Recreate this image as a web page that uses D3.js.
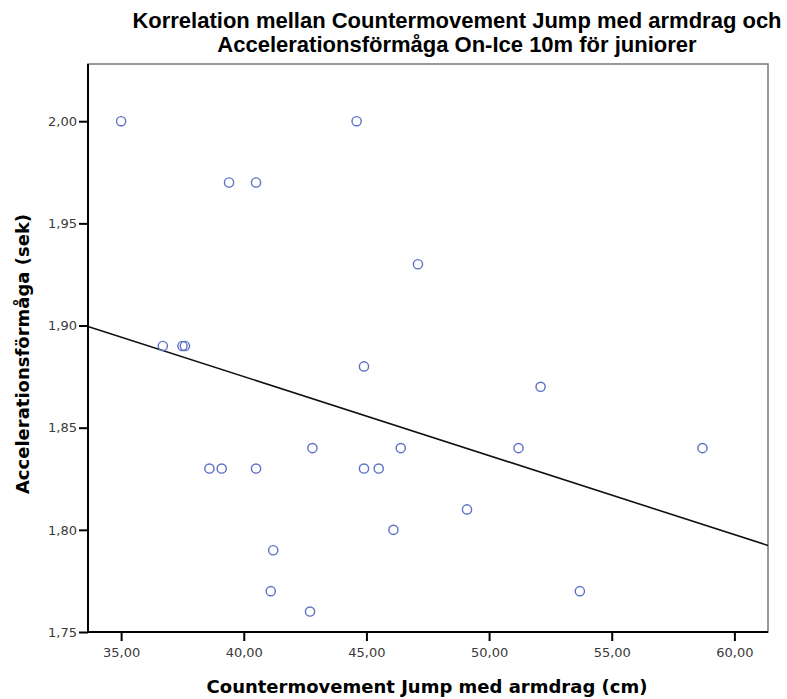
<!DOCTYPE html>
<html lang="sv">
<head>
  <meta charset="UTF-8">
  <title>Korrelation CMJ med armdrag och acceleration</title>
  <style>
    body { margin: 0; background: #fff; }
  </style>
</head>
<body>
  <svg id="chart" width="787" height="699"></svg>

  <script src="https://d3js.org/d3.v7.min.js"></script>
  <script>
    // Countermovement Jump med armdrag (cm)
    const jump = [35.0, 39.4, 40.5, 44.6, 47.1, 36.7, 37.5, 37.6, 44.9, 52.1,
                  38.6, 39.1, 40.5, 42.8, 44.9, 45.5, 46.4, 51.2, 58.7, 46.1,
                  49.1, 41.2, 41.1, 42.7, 53.7];
    // Accelerationsförmåga On-Ice 10m (sek)
    const accel = [2.00, 1.97, 1.97, 2.00, 1.93, 1.89, 1.89, 1.89, 1.88, 1.87,
                   1.83, 1.83, 1.83, 1.84, 1.83, 1.83, 1.84, 1.84, 1.84, 1.80,
                   1.81, 1.79, 1.77, 1.76, 1.77];
    const xTicks = [35, 40, 45, 50, 55, 60];
    const yTicks = [1.75, 1.80, 1.85, 1.90, 1.95, 2.00];

    const svg = d3.select("#chart");
    const plot = { left: 88, right: 768, top: 64, bottom: 632 };
    const labelFont = "'DejaVu Sans', Verdana, sans-serif";
    const titleFont = "'Liberation Sans', Arial, sans-serif";

    const x = d3.scaleLinear().domain([33.65, 61.37]).range([plot.left, plot.right]);
    const y = d3.scaleLinear().domain([1.75, 2.028]).range([plot.bottom, plot.top]);
    const fmt = v => d3.format(".2f")(v).replace(".", ",");

    // frame
    svg.append("rect")
      .attr("x", plot.left).attr("y", plot.top)
      .attr("width", plot.right - plot.left).attr("height", plot.bottom - plot.top)
      .attr("fill", "#fff").attr("stroke", "#777").attr("stroke-width", 1.5);

    // linear fit
    const mx = d3.mean(jump), my = d3.mean(accel);
    const sxy = d3.sum(jump, (v, i) => (v - mx) * (accel[i] - my));
    const sxx = d3.sum(jump, v => (v - mx) ** 2);
    const slope = sxy / sxx, icpt = my - slope * mx;
    const [d0, d1] = x.domain();
    svg.append("line")
      .attr("x1", x(d0)).attr("y1", y(icpt + slope * d0))
      .attr("x2", x(d1)).attr("y2", y(icpt + slope * d1))
      .attr("stroke", "#111").attr("stroke-width", 1.6);

    // points
    svg.append("g")
      .selectAll("circle")
      .data(jump.map((v, i) => [v, accel[i]]))
      .join("circle")
      .attr("cx", d => x(d[0]))
      .attr("cy", d => y(d[1]))
      .attr("r", 4.6)
      .attr("fill", "none")
      .attr("stroke", "#5b6fc6")
      .attr("stroke-width", 1.4);

    // axes
    const xAxis = svg.append("g")
      .attr("transform", `translate(0,${plot.bottom})`)
      .call(d3.axisBottom(x).tickValues(xTicks).tickFormat(fmt).tickSize(9).tickSizeOuter(0));
    const yAxis = svg.append("g")
      .attr("transform", `translate(${plot.left},0)`)
      .call(d3.axisLeft(y).tickValues(yTicks).tickFormat(fmt).tickSize(9).tickSizeOuter(0));

    [xAxis, yAxis].forEach(a => {
      a.select(".domain").remove();
      a.selectAll(".tick line").attr("stroke", "#000").attr("stroke-width", 2);
      a.selectAll(".tick text")
        .attr("fill", "#3a3a3a")
        .style("font-size", "13px")
        .style("font-family", labelFont);
    });
    xAxis.selectAll(".tick text").attr("y", 16).attr("dy", "0.71em");
    yAxis.selectAll(".tick text").attr("x", -11);

    // axis lines on top of the frame
    svg.append("line").attr("x1", plot.left).attr("x2", plot.right)
      .attr("y1", plot.bottom).attr("y2", plot.bottom)
      .attr("stroke", "#000").attr("stroke-width", 2);
    svg.append("line").attr("x1", plot.left).attr("x2", plot.left)
      .attr("y1", plot.top).attr("y2", plot.bottom)
      .attr("stroke", "#000").attr("stroke-width", 2);

    // title
    const title = svg.append("text")
      .attr("text-anchor", "middle")
      .style("font-family", titleFont)
      .style("font-weight", "bold")
      .style("font-size", "22px")
      .attr("fill", "#000");
    title.append("tspan").attr("x", 457).attr("y", 28)
      .text("Korrelation mellan Countermovement Jump med armdrag och");
    title.append("tspan").attr("x", 457).attr("y", 52)
      .text("Accelerationsförmåga On-Ice 10m för juniorer");

    // axis titles
    svg.append("text")
      .attr("x", 427).attr("y", 693)
      .attr("text-anchor", "middle")
      .style("font-family", labelFont)
      .style("font-weight", "bold").style("font-size", "18px")
      .text("Countermovement Jump med armdrag (cm)");

    svg.append("text")
      .attr("transform", "translate(23,354) rotate(-90)")
      .attr("text-anchor", "middle")
      .attr("dy", "0.36em")
      .style("font-family", labelFont)
      .style("font-weight", "bold").style("font-size", "18px")
      .text("Accelerationsförmåga (sek)");
  </script>
</body>
</html>
